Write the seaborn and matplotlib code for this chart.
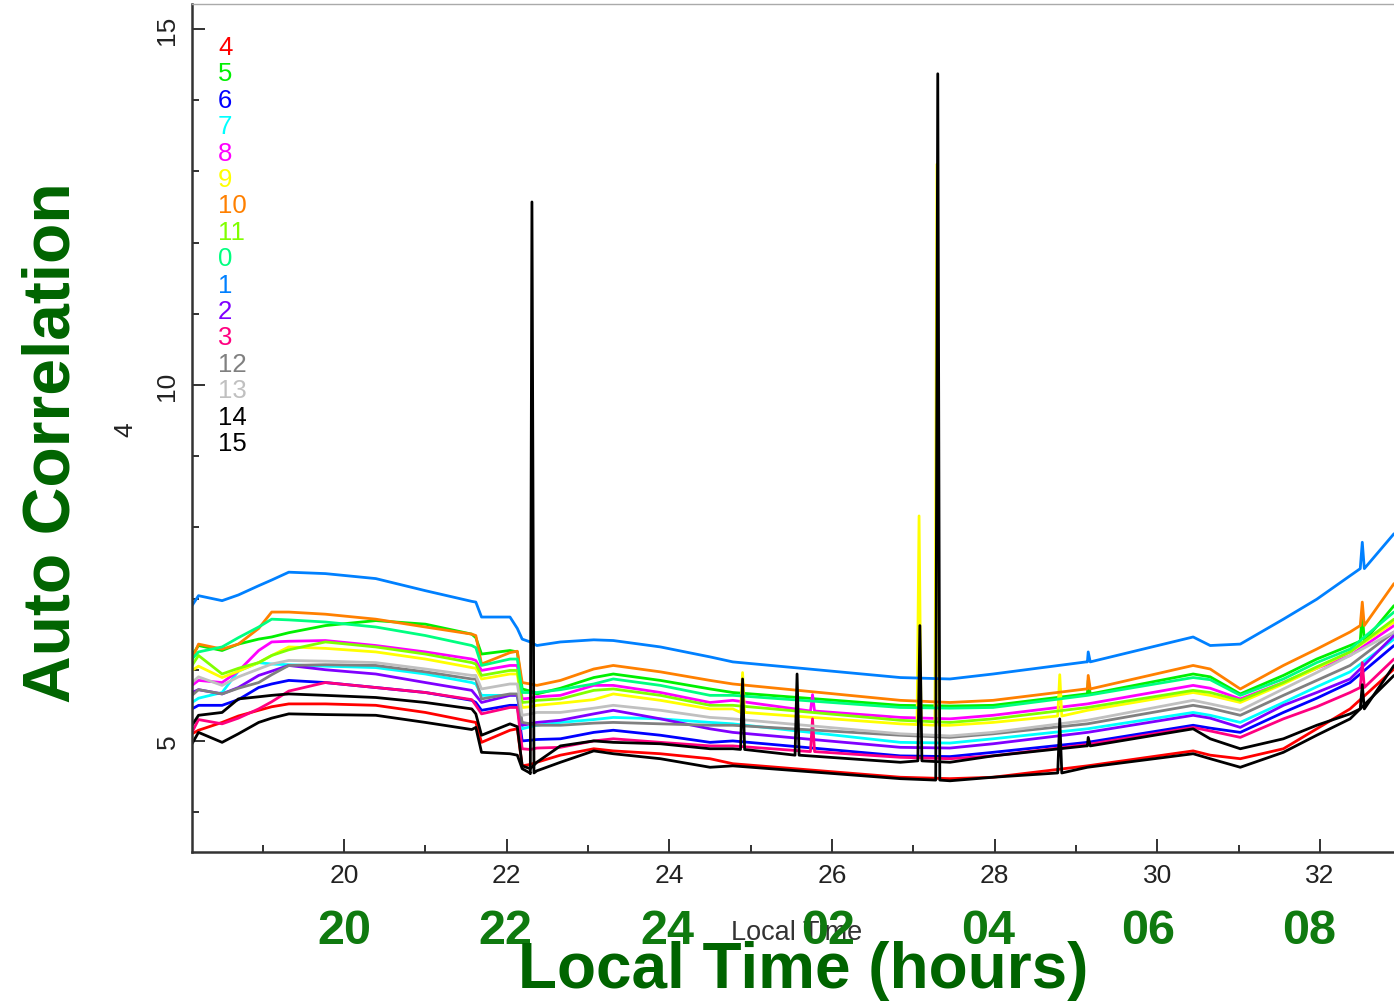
import matplotlib
matplotlib.use("Agg")
import matplotlib.pyplot as plt
from matplotlib.ticker import MultipleLocator
import numpy as np
import pandas as pd
import seaborn as sns

# Sample times (hours after midnight of the first day)
hours = [18.13, 18.21, 18.50, 18.70, 18.95, 19.11, 19.32, 19.77, 20.39, 21.00,
         21.57, 21.62, 21.69, 22.04, 22.13, 22.19, 22.29, 22.37, 22.66, 23.07,
         23.31, 23.89, 24.50, 24.78, 26.84, 27.45, 27.98, 29.14, 30.44, 30.65,
         31.02, 31.55, 31.96, 32.37, 32.91]

# Auto-correlation level of each channel at those times
ch0 = [6.15, 6.25, 6.32, 6.45, 6.60, 6.71, 6.70, 6.67, 6.60, 6.48, 6.34, 6.31, 6.06, 6.15, 6.15,
       5.68, 5.68, 5.68, 5.72, 5.80, 5.87, 5.78, 5.64, 5.64, 5.47, 5.46, 5.47, 5.64, 5.89, 5.86,
       5.64, 5.87, 6.10, 6.29, 6.81]
ch1 = [6.90, 7.04, 6.97, 7.05, 7.18, 7.26, 7.37, 7.35, 7.28, 7.11, 6.96, 6.95, 6.74, 6.74, 6.58,
       6.43, 6.39, 6.34, 6.39, 6.42, 6.41, 6.32, 6.18, 6.11, 5.89, 5.87, 5.94, 6.11, 6.46, 6.34,
       6.36, 6.71, 6.99, 7.32, 7.91]
ch2 = [5.68, 5.72, 5.66, 5.75, 5.92, 5.98, 6.06, 6.00, 5.94, 5.82, 5.71, 5.64, 5.54, 5.64, 5.64,
       5.22, 5.24, 5.26, 5.29, 5.38, 5.43, 5.31, 5.17, 5.12, 4.91, 4.90, 4.96, 5.12, 5.36, 5.32,
       5.19, 5.50, 5.68, 5.87, 6.48]
ch3 = [5.12, 5.30, 5.24, 5.32, 5.45, 5.55, 5.70, 5.82, 5.75, 5.68, 5.58, 5.50, 5.38, 5.47, 5.47,
       4.89, 4.88, 4.90, 4.91, 5.00, 5.03, 4.98, 4.93, 4.93, 4.77, 4.75, 4.79, 4.95, 5.19, 5.14,
       5.05, 5.31, 5.48, 5.68, 6.15]
ch4 = [5.10, 5.15, 5.26, 5.35, 5.43, 5.48, 5.52, 5.52, 5.50, 5.40, 5.27, 5.26, 4.98, 5.15, 5.17,
       4.65, 4.67, 4.70, 4.80, 4.89, 4.86, 4.82, 4.75, 4.68, 4.49, 4.47, 4.49, 4.65, 4.86, 4.80,
       4.75, 4.89, 5.17, 5.45, 6.01]
ch5 = [6.20, 6.34, 6.27, 6.36, 6.43, 6.46, 6.52, 6.62, 6.69, 6.64, 6.50, 6.45, 6.22, 6.27, 6.25,
       5.73, 5.70, 5.66, 5.74, 5.89, 5.94, 5.85, 5.73, 5.68, 5.50, 5.49, 5.50, 5.66, 5.94, 5.90,
       5.66, 5.92, 6.15, 6.34, 6.90]
ch6 = [5.45, 5.50, 5.50, 5.58, 5.75, 5.80, 5.85, 5.82, 5.75, 5.68, 5.57, 5.54, 5.43, 5.50, 5.50,
       5.00, 5.01, 5.02, 5.03, 5.12, 5.15, 5.08, 4.98, 5.00, 4.79, 4.78, 4.84, 4.98, 5.22, 5.18,
       5.12, 5.40, 5.60, 5.82, 6.34]
ch7 = [5.54, 5.60, 5.68, 5.98, 6.10, 6.08, 6.07, 6.05, 6.03, 5.94, 5.82, 5.80, 5.64, 5.64, 5.64,
       5.17, 5.20, 5.22, 5.26, 5.30, 5.33, 5.31, 5.26, 5.24, 4.98, 4.97, 5.03, 5.17, 5.40, 5.36,
       5.26, 5.54, 5.76, 5.97, 6.43]
ch8 = [5.78, 5.85, 5.82, 5.98, 6.27, 6.39, 6.40, 6.41, 6.34, 6.25, 6.15, 6.13, 5.99, 6.06, 6.06,
       5.59, 5.60, 5.62, 5.64, 5.78, 5.78, 5.68, 5.54, 5.57, 5.33, 5.31, 5.36, 5.52, 5.78, 5.74,
       5.59, 5.82, 6.02, 6.20, 6.62]
ch9 = [5.99, 6.05, 5.89, 5.98, 6.10, 6.20, 6.32, 6.30, 6.25, 6.15, 6.03, 6.02, 5.87, 5.94, 5.94,
       5.47, 5.48, 5.50, 5.53, 5.58, 5.66, 5.57, 5.45, 5.45, 5.24, 5.22, 5.26, 5.43, 5.68, 5.64,
       5.54, 5.80, 6.02, 6.25, 6.67]
ch10 = [6.15, 6.36, 6.29, 6.36, 6.58, 6.81, 6.81, 6.78, 6.71, 6.60, 6.50, 6.48, 6.08, 6.24, 6.26,
        5.82, 5.80, 5.78, 5.85, 6.01, 6.06, 5.97, 5.85, 5.80, 5.57, 5.54, 5.57, 5.73, 6.06, 6.01,
        5.73, 6.06, 6.29, 6.53, 7.21]
ch11 = [6.06, 6.20, 5.94, 6.02, 6.10, 6.20, 6.28, 6.39, 6.32, 6.22, 6.10, 6.08, 5.92, 5.99, 5.99,
        5.54, 5.55, 5.57, 5.59, 5.71, 5.73, 5.64, 5.50, 5.50, 5.29, 5.26, 5.31, 5.47, 5.71, 5.68,
        5.57, 5.82, 6.04, 6.25, 6.71]
ch12 = [5.64, 5.72, 5.66, 5.74, 5.82, 5.93, 6.06, 6.07, 6.06, 5.97, 5.87, 5.87, 5.59, 5.66, 5.66,
        5.26, 5.24, 5.22, 5.22, 5.25, 5.26, 5.24, 5.22, 5.22, 5.08, 5.05, 5.10, 5.24, 5.50, 5.46,
        5.36, 5.64, 5.85, 6.06, 6.53]
ch13 = [5.82, 5.90, 5.78, 5.90, 6.01, 6.08, 6.13, 6.12, 6.10, 6.01, 5.92, 5.92, 5.73, 5.80, 5.80,
        5.36, 5.38, 5.40, 5.40, 5.46, 5.50, 5.43, 5.33, 5.31, 5.10, 5.07, 5.12, 5.29, 5.57, 5.52,
        5.43, 5.73, 5.96, 6.20, 6.53]
ch14 = [5.22, 5.36, 5.40, 5.59, 5.62, 5.64, 5.66, 5.64, 5.61, 5.54, 5.45, 5.38, 5.08, 5.24, 5.20,
        4.65, 4.61, 4.70, 4.93, 5.00, 4.98, 4.96, 4.89, 4.89, 4.70, 4.70, 4.79, 4.93, 5.17, 5.03,
        4.89, 5.03, 5.22, 5.38, 6.06]
ch15 = [4.96, 5.12, 4.98, 5.10, 5.26, 5.32, 5.38, 5.37, 5.36, 5.26, 5.16, 5.19, 4.84, 4.82, 4.80,
        4.61, 4.54, 4.58, 4.70, 4.86, 4.82, 4.75, 4.63, 4.65, 4.47, 4.44, 4.49, 4.63, 4.82, 4.75,
        4.63, 4.84, 5.08, 5.31, 5.92]

# Short interference bursts: (time, level at the foot, level at the tip)
spikes1 = [(29.15, 6.11, 6.25), (32.52, 7.42, 7.79)]
spikes3 = [(25.76, 4.85, 5.31), (32.52, 5.75, 6.10)]
spikes5 = [(29.15, 5.66, 5.85), (32.52, 6.40, 6.80)]
spikes8 = [(25.76, 5.42, 5.65)]
spikes9 = [(24.90, 5.40, 5.96), (27.07, 5.23, 8.16), (27.29, 5.22, 13.10), (28.80, 5.35, 5.93)]
spikes10 = [(29.15, 5.73, 5.92), (32.52, 6.62, 6.95)]
spikes14 = [(24.90, 4.88, 5.87), (25.57, 4.80, 5.94), (27.08, 4.72, 6.62), (29.15, 4.93, 5.05),
            (32.52, 5.45, 5.79)]
spikes15 = [(22.31, 4.55, 12.57), (27.30, 4.45, 14.37), (28.80, 4.55, 5.31)]

# Channel names in drawing / key order, with their colours
channels = ["4", "5", "6", "7", "8", "9", "10", "11", "0", "1", "2", "3", "12", "13", "14", "15"]
colors = ["#ff0000", "#00f000", "#0000ff", "#00ffff", "#ff00ff", "#ffff00", "#ff8000", "#80ff00",
          "#00ff80", "#0080ff", "#8000ff", "#ff0080", "#808080", "#c0c0c0", "#000000", "#000000"]

# Axis ticks and the clock-time relabelling underneath
hour_ticks = [20, 22, 24, 26, 28, 30, 32]
clock_labels = ["20", "22", "24", "02", "04", "06", "08"]
clock_label_px = [344, 505, 667, 828, 988, 1148, 1309]

levels = {"0": ch0, "1": ch1, "2": ch2, "3": ch3, "4": ch4, "5": ch5, "6": ch6, "7": ch7,
          "8": ch8, "9": ch9, "10": ch10, "11": ch11, "12": ch12, "13": ch13, "14": ch14,
          "15": ch15}
bursts = {"1": spikes1, "3": spikes3, "5": spikes5, "8": spikes8, "9": spikes9,
          "10": spikes10, "14": spikes14, "15": spikes15}

half_width = 0.025
rows = []
for name in channels:
    pts = list(zip(hours, levels[name]))
    for t, foot, tip in bursts.get(name, []):
        pts += [(t - half_width, foot), (t, tip), (t + half_width, foot)]
    pts.sort(key=lambda p: p[0])
    rows += [(t, v, name) for t, v in pts]
df = pd.DataFrame(rows, columns=["hour", "level", "channel"])

sns.set_style("ticks")
plt.rcParams["font.family"] = ["Liberation Sans", "DejaVu Sans"]

W, H = 1394, 1003
fig = plt.figure(figsize=(W / 100, H / 100), dpi=100)
ax = fig.add_axes([192 / W, 1 - 853 / H, (1394 - 192) / W, (853 - 5) / H])

for name, col in zip(channels, colors):
    sns.lineplot(data=df[df["channel"] == name], x="hour", y="level", color=col,
                 linewidth=2.0, estimator=None, legend=False, ax=ax)

ax.set_xlim(18.13, 32.91)
ax.set_ylim(3.44, 15.35)
ax.set_xticks(hour_ticks)
ax.set_xticklabels([str(h) for h in hour_ticks])
ax.xaxis.set_minor_locator(MultipleLocator(1))
ax.set_yticks([5, 10, 15])
ax.set_yticklabels(["5", "10", "15"], rotation=90, va="center")
ax.yaxis.set_minor_locator(MultipleLocator(1))
ax.tick_params(axis="both", which="major", direction="in", length=9.5, width=1.3,
               labelsize=19, colors="#222222")
ax.tick_params(axis="both", which="minor", direction="in", length=5, width=1.3,
               colors="#222222")
ax.tick_params(axis="x", which="major", pad=8)
ax.tick_params(axis="y", which="major", pad=9)

for side in ("left", "bottom"):
    ax.spines[side].set_linewidth(1.8)
    ax.spines[side].set_color("#333333")
ax.spines["top"].set_color("#aaaaaa")
ax.spines["top"].set_linewidth(1.0)
ax.spines["right"].set_visible(False)

ax.set_xlabel("Local Time", fontsize=19.5, color="#333333")
ax.xaxis.set_label_coords((797 - 192) / 1202, (853 - 920) / 848)
ax.set_ylabel("4", fontsize=19, color="#222222")
ax.yaxis.set_label_coords((137 - 192) / 1202, (853 - 430) / 848)

# Channel key down the left side of the plot
for i, (name, col) in enumerate(zip(channels, colors)):
    fig.text(218 / W, 1 - (55 + 26.4 * i) / H, name, color=col, fontsize=18.5,
             ha="left", va="baseline")

# Large presentation labels
green_dark = "#006400"
green_tick = "#0f7a0f"
for px, lab in zip(clock_label_px, clock_labels):
    fig.text(px / W, 1 - 944 / H, lab, color=green_tick, fontsize=35, fontweight="bold",
             ha="center", va="baseline", zorder=10)
fig.text(803 / W, 1 - 988 / H, "Local Time (hours)", color=green_dark, fontsize=46,
         fontweight="bold", ha="center", va="baseline", zorder=10)
fig.text(70 / W, 1 - 443 / H, "Auto Correlation", color=green_dark, fontsize=47.5,
         fontweight="bold", rotation=90, rotation_mode="anchor", ha="center",
         va="baseline", zorder=10)

fig.savefig("out.png", dpi=100)
